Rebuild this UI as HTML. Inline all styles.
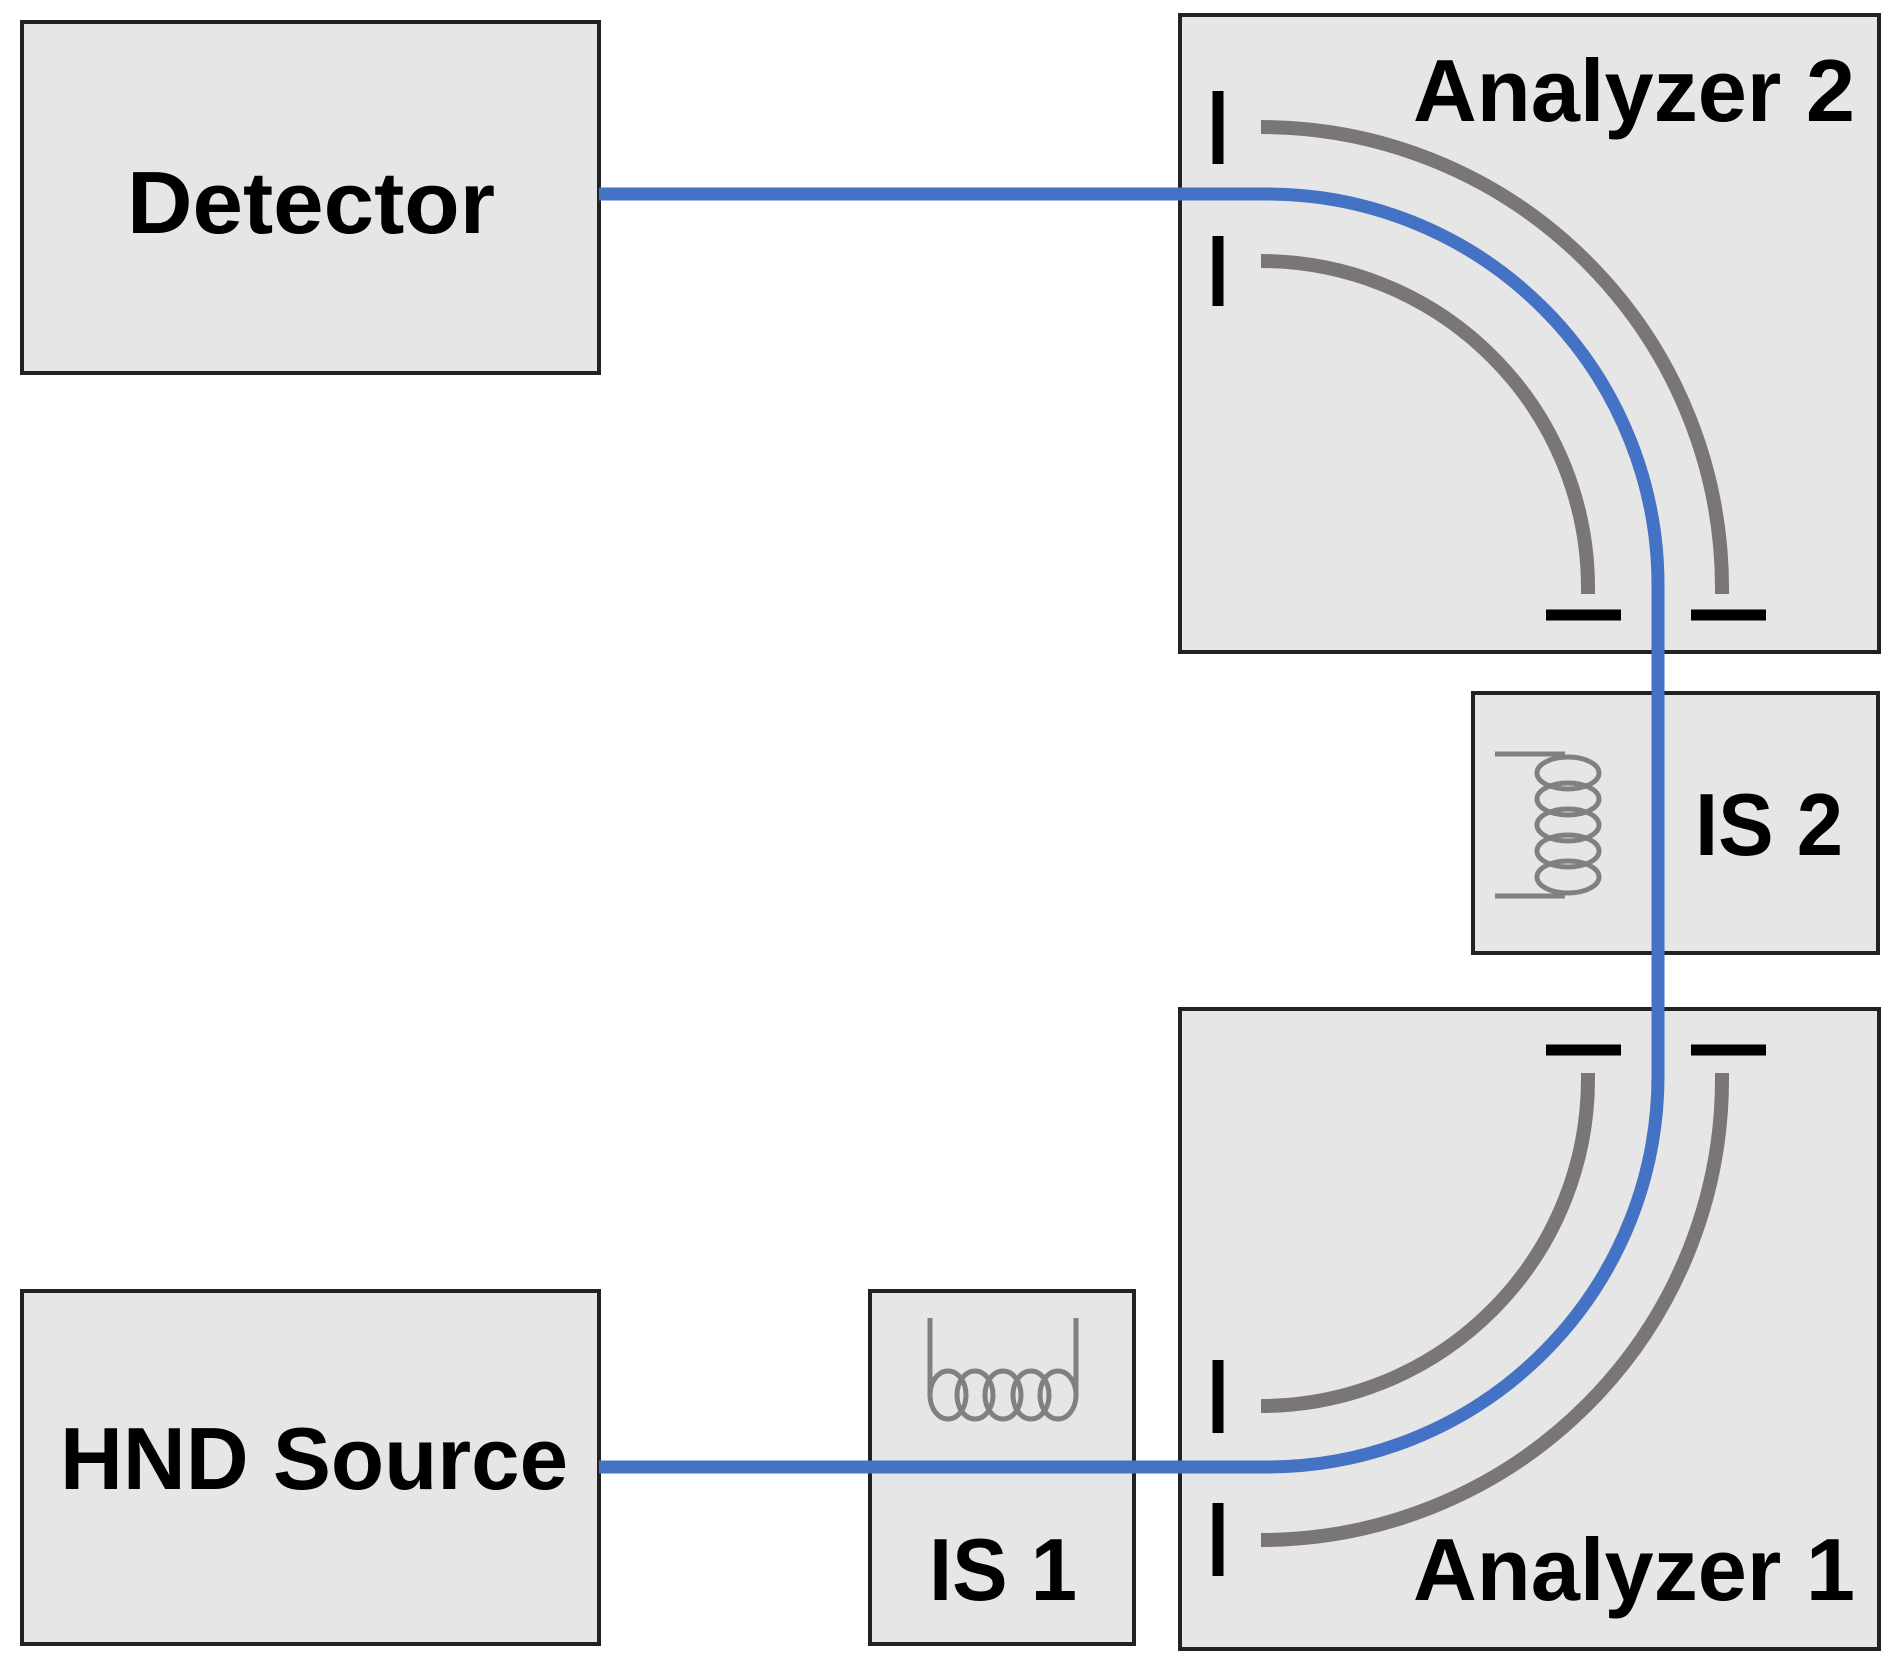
<!DOCTYPE html>
<html><head><style>html,body{margin:0;padding:0;background:#fff}svg{display:block}</style></head>
<body>
<svg width="1901" height="1679" viewBox="0 0 1901 1679" xmlns="http://www.w3.org/2000/svg" font-family="Liberation Sans, sans-serif" font-weight="bold">
<g fill="#e6e6e6" stroke="#222" stroke-width="4">
<rect x="22" y="22" width="577" height="351"/>
<rect x="1180" y="15" width="699" height="637"/>
<rect x="1473" y="693" width="405" height="260"/>
<rect x="1180" y="1009" width="699" height="640"/>
<rect x="22" y="1291" width="577" height="353"/>
<rect x="870" y="1291" width="264" height="353"/>
</g>
<g fill="none" stroke="#7a7576" stroke-width="14">
<path d="M1261 127 A461 461 0 0 1 1722 588 L1722 594"/>
<path d="M1261 261 A327 327 0 0 1 1588 588 L1588 594"/>
<path d="M1588 1073 L1588 1079 A327 327 0 0 1 1261 1406"/>
<path d="M1722 1073 L1722 1079 A461 461 0 0 1 1261 1540"/>
</g>
<g stroke="#000" stroke-width="11">
<line x1="1218" y1="91" x2="1218" y2="164"/>
<line x1="1218" y1="236" x2="1218" y2="306"/>
<line x1="1546" y1="615" x2="1621" y2="615"/>
<line x1="1691" y1="615" x2="1766" y2="615"/>
<line x1="1546" y1="1050" x2="1621" y2="1050"/>
<line x1="1691" y1="1050" x2="1766" y2="1050"/>
<line x1="1218" y1="1360" x2="1218" y2="1433"/>
<line x1="1218" y1="1503" x2="1218" y2="1576"/>
</g>
<path d="M599 194 L1267 194 A391 391 0 0 1 1658 585 L1658 1076 A391 391 0 0 1 1267 1467 L599 1467" fill="none" stroke="#4472c4" stroke-width="13"/>
<g fill="none" stroke="#808080" stroke-width="5">
<line x1="930" y1="1318" x2="930" y2="1395"/>
<line x1="1076" y1="1318" x2="1076" y2="1395"/>
<ellipse cx="948" cy="1395" rx="18" ry="24"/>
<ellipse cx="975" cy="1395" rx="18" ry="24"/>
<ellipse cx="1003" cy="1395" rx="18" ry="24"/>
<ellipse cx="1031" cy="1395" rx="18" ry="24"/>
<ellipse cx="1058" cy="1395" rx="18" ry="24"/>
<line x1="1495" y1="754" x2="1565" y2="754"/>
<line x1="1495" y1="896" x2="1565" y2="896"/>
<ellipse cx="1568" cy="773" rx="31" ry="16"/>
<ellipse cx="1568" cy="799" rx="31" ry="16"/>
<ellipse cx="1568" cy="825" rx="31" ry="16"/>
<ellipse cx="1568" cy="851" rx="31" ry="16"/>
<ellipse cx="1568" cy="877" rx="31" ry="16"/>
</g>
<g fill="#000" font-size="88">
<text x="127" y="233" textLength="368" lengthAdjust="spacingAndGlyphs">Detector</text>
<text x="60" y="1489" textLength="508" lengthAdjust="spacingAndGlyphs">HND Source</text>
<text x="1413" y="121" textLength="442" lengthAdjust="spacingAndGlyphs">Analyzer 2</text>
<text x="1413" y="1600" textLength="442" lengthAdjust="spacingAndGlyphs">Analyzer 1</text>
<text x="1695" y="855" textLength="148" lengthAdjust="spacingAndGlyphs">IS 2</text>
<text x="929" y="1600" textLength="148" lengthAdjust="spacingAndGlyphs">IS 1</text>
</g>
</svg>
</body></html>
